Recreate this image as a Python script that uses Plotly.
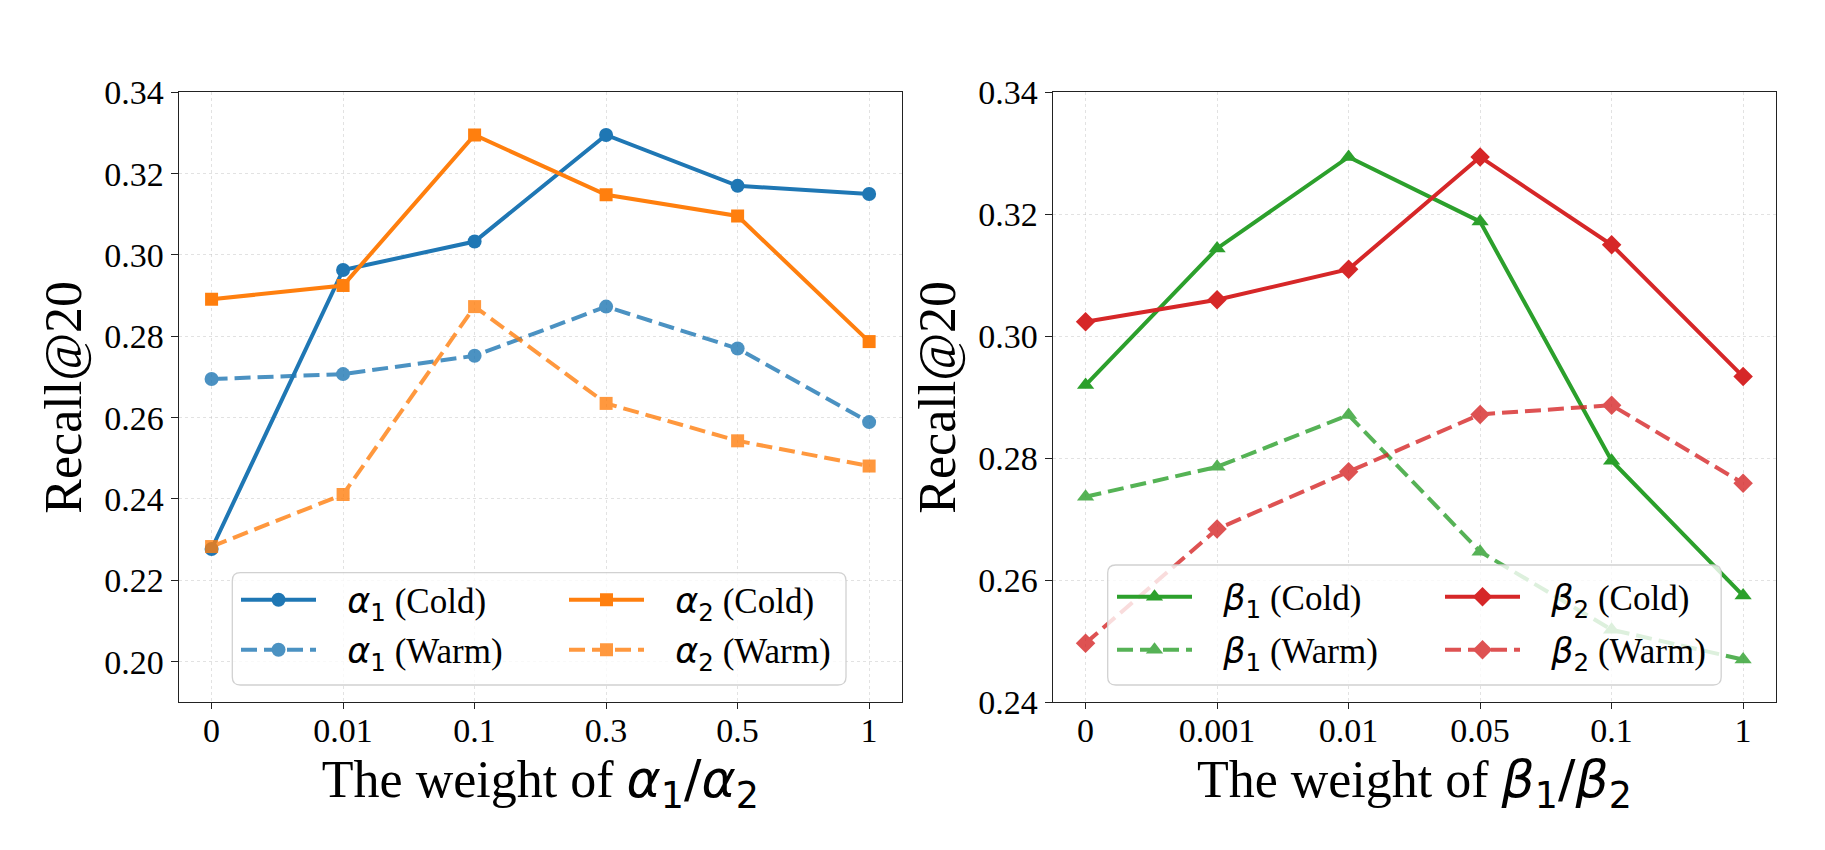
import plotly.graph_objects as go

# ---------------- data ----------------
alpha_ticks = ["0", "0.01", "0.1", "0.3", "0.5", "1"]
beta_ticks = ["0", "0.001", "0.01", "0.05", "0.1", "1"]

a1_cold = [0.2277, 0.2963, 0.3033, 0.3295, 0.3170, 0.3150]
a2_cold = [0.2891, 0.2925, 0.3295, 0.3148, 0.3096, 0.2787]
a1_warm = [0.2695, 0.2707, 0.2752, 0.2873, 0.2770, 0.2589]
a2_warm = [0.2283, 0.2411, 0.2873, 0.2635, 0.2543, 0.2481]

b1_cold = [0.2920, 0.3144, 0.3294, 0.3188, 0.2796, 0.2575]
b2_cold = [0.3024, 0.3060, 0.3110, 0.3294, 0.3150, 0.2934]
b1_warm = [0.2737, 0.2786, 0.2871, 0.2647, 0.2519, 0.2470]
b2_warm = [0.2497, 0.2684, 0.2778, 0.2872, 0.2887, 0.2759]

left_yticks = [0.20, 0.22, 0.24, 0.26, 0.28, 0.30, 0.32, 0.34]
right_yticks = [0.24, 0.26, 0.28, 0.30, 0.32, 0.34]

BLUE, ORANGE, GREEN, RED = "#1f77b4", "#ff7f0e", "#2ca02c", "#d62728"
SERIF = "Liberation Serif"
MATH = "DejaVu Sans"

W, H = 1825, 850
PAD = "\u00a0\u00a0\u00a0"


def greek(sym, idx):
    return PAD + f"<span style='font-family:{MATH}'><i>{sym}</i><sub>{idx}</sub></span>"


fig = go.Figure()

LW = 4


def add(x, y, name, color, symbol, size, dashed, xa, ya, legend):
    fig.add_trace(go.Scatter(
        x=x, y=y, name=name, mode="lines+markers",
        line=dict(color=color, width=LW, dash="16px,7px" if dashed else "solid"),
        marker=dict(symbol=symbol, size=size, color=color),
        opacity=0.8 if dashed else 1.0,
        xaxis=xa, yaxis=ya, legend=legend,
    ))


add(alpha_ticks, a1_cold, greek("α", 1) + " (Cold)", BLUE, "circle", 14, False, "x", "y", "legend")
add(alpha_ticks, a2_cold, greek("α", 2) + " (Cold)", ORANGE, "square", 13, False, "x", "y", "legend")
add(alpha_ticks, a1_warm, greek("α", 1) + " (Warm)", BLUE, "circle", 14, True, "x", "y", "legend2")
add(alpha_ticks, a2_warm, greek("α", 2) + " (Warm)", ORANGE, "square", 13, True, "x", "y", "legend2")

add(beta_ticks, b1_cold, greek("β", 1) + " (Cold)", GREEN, "triangle-up", 15, False, "x2", "y2", "legend3")
add(beta_ticks, b2_cold, greek("β", 2) + " (Cold)", RED, "diamond", 15, False, "x2", "y2", "legend3")
add(beta_ticks, b1_warm, greek("β", 1) + " (Warm)", GREEN, "triangle-up", 15, True, "x2", "y2", "legend4")
add(beta_ticks, b2_warm, greek("β", 2) + " (Warm)", RED, "diamond", 15, True, "x2", "y2", "legend4")

# axes geometry in pixels
L1, R1 = 178.7, 902.0
L2, R2 = 1052.7, 1776.0
TOP, BOT = 92.3, 702.3


def px(x):
    return x / W


def py(y):
    return (H - y) / H


common_x = dict(
    type="category", range=[-0.25, 5.25], showline=True, linecolor="#222", linewidth=1.3,
    mirror=True, ticks="outside", ticklen=6, tickcolor="#222", tickwidth=1.2,
    showgrid=True, gridcolor="rgba(190,190,190,0.45)", griddash="dot", gridwidth=1,
    tickfont=dict(family=SERIF, size=34, color="black"), automargin=False, zeroline=False,
    ticklabelstandoff=-8,
)
common_y = dict(
    showline=True, linecolor="#222", linewidth=1.3, mirror=True, ticks="outside", ticklen=7,
    tickcolor="#222", tickwidth=1.2, showgrid=True, gridcolor="rgba(190,190,190,0.45)",
    griddash="dot", gridwidth=1, tickfont=dict(family=SERIF, size=34, color="black"),
    automargin=False, zeroline=False, tickformat=".2f",
)

xtitle_a = "The weight of " + f"<span style='font-family:{MATH}'><i>α</i><sub>1</sub>/<i>α</i><sub>2</sub></span>"
xtitle_b = "The weight of " + f"<span style='font-family:{MATH}'><i>β</i><sub>1</sub>/<i>β</i><sub>2</sub></span>"

fig.update_layout(
    width=W, height=H, margin=dict(l=0, r=0, t=0, b=0),
    paper_bgcolor="white", plot_bgcolor="white",
    font=dict(family=SERIF, color="black"),
    xaxis=dict(common_x, domain=[px(L1), px(R1)], anchor="y",
               title=dict(text=xtitle_a, font=dict(size=52, family=SERIF), standoff=4)),
    yaxis=dict(common_y, domain=[py(BOT), py(TOP)], range=[0.19, 0.34], tickvals=left_yticks, anchor="x",
               title=dict(text="Recall@20", font=dict(size=52, family=SERIF), standoff=6)),
    xaxis2=dict(common_x, domain=[px(L2), px(R2)], anchor="y2",
                title=dict(text=xtitle_b, font=dict(size=52, family=SERIF), standoff=4)),
    yaxis2=dict(common_y, domain=[py(BOT), py(TOP)], range=[0.24, 0.34], tickvals=right_yticks, anchor="x2",
                title=dict(text="Recall@20", font=dict(size=52, family=SERIF), standoff=6)),
)

leg_common = dict(orientation="h", xanchor="left", yanchor="middle", bgcolor="rgba(0,0,0,0)",
                  borderwidth=0, font=dict(family=SERIF, size=35, color="black"),
                  itemwidth=75, entrywidth=238, entrywidthmode="pixels", traceorder="normal",
                  itemclick=False, itemdoubleclick=False)

fig.update_layout(
    legend=dict(leg_common, x=px(236), y=py(600)),
    legend2=dict(leg_common, x=px(236), y=py(650)),
    legend3=dict(leg_common, x=px(1112), y=py(597)),
    legend4=dict(leg_common, x=px(1112), y=py(650)),
)


def rounded_box(x0, y0, x1, y1, r=8):
    # pixel coords -> paper path
    def P(x, y):
        return f"{px(x):.5f},{py(y):.5f}"
    path = (f"M {P(x0 + r, y0)} L {P(x1 - r, y0)} Q {P(x1, y0)} {P(x1, y0 + r)} "
            f"L {P(x1, y1 - r)} Q {P(x1, y1)} {P(x1 - r, y1)} L {P(x0 + r, y1)} "
            f"Q {P(x0, y1)} {P(x0, y1 - r)} L {P(x0, y0 + r)} Q {P(x0, y0)} {P(x0 + r, y0)} Z")
    return dict(type="path", xref="paper", yref="paper", path=path,
                fillcolor="rgba(255,255,255,0.8)", line=dict(color="rgba(204,204,204,0.9)", width=1.3),
                layer="above")


fig.update_layout(shapes=[
    rounded_box(232.3, 572.7, 846.0, 685.0),
    rounded_box(1107.7, 565.0, 1721.2, 685.0),
])

fig.write_html("out.html")
